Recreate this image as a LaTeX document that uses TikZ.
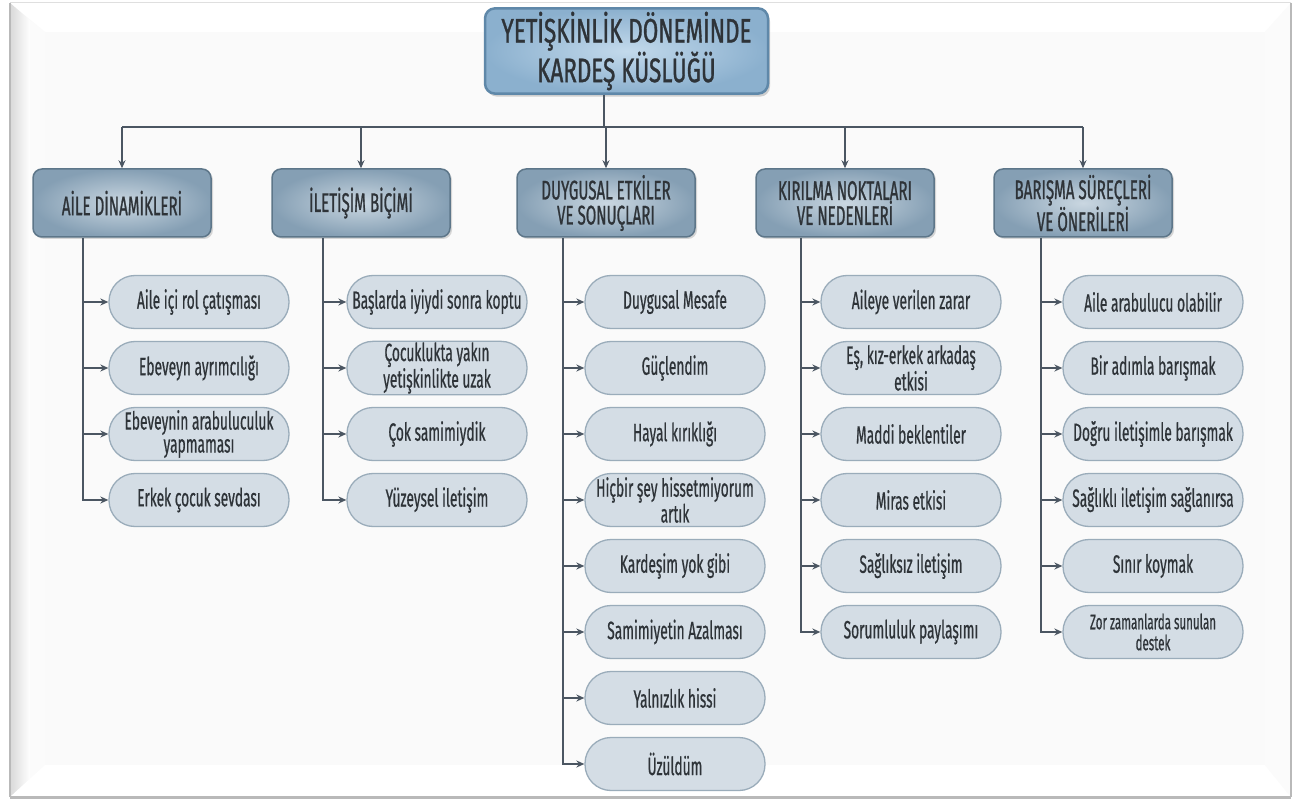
\documentclass[tikz,border=0pt]{standalone}
\usepackage{fontspec}
\setmainfont{Fira Sans}[FakeStretch=0.55]
\newfontfamily\pillfont{Fira Sans}[FakeStretch=0.55,FakeBold=0.6]
\newfontfamily\catfont{Fira Sans}[FakeStretch=0.56,FakeBold=0.8]
\newfontfamily\titfont{Fira Sans}[FakeStretch=0.66,FakeBold=1]
\usetikzlibrary{arrows.meta,shadows,calc}
\definecolor{txt}{HTML}{2E3338}
\definecolor{lnc}{HTML}{4B5662}
\definecolor{pillfill}{HTML}{D4DDE5}
\definecolor{pilldraw}{HTML}{9AACBA}
\definecolor{catin}{HTML}{CAD7E1}
\definecolor{catout}{HTML}{859FB4}
\definecolor{catdraw}{HTML}{5D7689}
\definecolor{titin}{HTML}{C3DAEC}
\definecolor{titout}{HTML}{8BB0CE}
\definecolor{titdraw}{HTML}{5F88A9}
\definecolor{face}{HTML}{FAFAFA}
\tikzset{
  titlebox/.style={rectangle, rounded corners=10pt, draw=titdraw, line width=2.5pt,
    inner color=titin, outer color=titout, minimum width=283pt, minimum height=82pt,
    align=center, text=txt, font=\titfont\fontsize{34}{29}\selectfont,
    drop shadow={opacity=0.35, shadow xshift=2pt, shadow yshift=-3pt}},
  catbox/.style={rectangle, rounded corners=9pt, draw=catdraw, line width=1.5pt,
    inner color=catin, outer color=catout, minimum width=178pt, minimum height=68pt,
    align=center, text=txt, font=\catfont\fontsize{27}{25}\selectfont,
    drop shadow={opacity=0.3, shadow xshift=2pt, shadow yshift=-2pt}},
  pill/.style={rectangle, rounded corners=26pt, draw=pilldraw, line width=1.3pt,
    fill=pillfill, minimum width=180pt, minimum height=53pt, inner sep=1pt,
    align=center, text=txt, font=\pillfont\fontsize{25}{23}\selectfont},
  conn/.style={draw=lnc, line width=2pt},
  arr/.style={conn, -{Stealth[length=8pt,width=7pt]}},
}
\begin{document}
\begin{tikzpicture}[x=1pt,y=-1pt]
\useasboundingbox (0,0) rectangle (1299,802);
% ---- frame ----
\fill[white] (0,0) rectangle (1299,802);
\fill[face] (10,3) rectangle (1291,797);
\fill[white] (10,3) -- (1291,3) -- (1265,32) -- (45,32) -- cycle;
\shade[left color=gray!30, right color=white] (10,3) -- (30,20) -- (30,780) -- (10,797) -- cycle;
\fill[white!97!gray] (30,20) -- (45,32) -- (45,765) -- (30,780) -- cycle;
\fill[white] (10,797) -- (45,765) -- (1265,765) -- (1291,797) -- cycle;
\fill[white!97!gray] (1291,3) -- (1265,32) -- (1265,765) -- (1291,797) -- cycle;
\fill[face] (45,32) rectangle (1265,765);
\draw[gray!25, line width=1pt] (10,3) -- (1291,3);
\draw[gray!55, line width=2pt] (10,3) -- (10,797);
\draw[gray!55, line width=3pt] (10,797) -- (1291,797);
\draw[gray!55, line width=2pt] (1291,3) -- (1291,797);

% ---- title ----
\node[titlebox] (title) at (626.5,51) {YETİŞKİNLİK DÖNEMİNDE\\KARDEŞ KÜSLÜĞÜ};

% ---- categories ----
\node[catbox] (cat1) at (122,203) {AİLE DİNAMİKLERİ};
\node[catbox] (cat2) at (361,203) {İLETİŞİM BİÇİMİ};
\node[catbox] (cat3) at (606,203) {DUYGUSAL ETKİLER\\VE SONUÇLARI};
\node[catbox] (cat4) at (845,203) {KIRILMA NOKTALARI\\VE NEDENLERİ};
\node[catbox] (cat5) at (1083,203) {BARIŞMA SÜREÇLERİ\\VE ÖNERİLERİ};

\coordinate (bar) at (604,127);
\draw[conn] (title.south -| bar) -- (bar);
\draw[conn] (bar -| cat1.north) -- (bar -| cat5.north);
\foreach \c in {cat1,cat2,cat3,cat4,cat5}{
  \draw[arr] (bar -| \c.north) -- (\c.north);
}

% ---- spine x positions ----
\coordinate (s1) at (83,0);
\coordinate (s2) at (323,0);
\coordinate (s3) at (563,0);
\coordinate (s4) at (801,0);
\coordinate (s5) at (1041,0);

% ---- column 1 ----
\node[pill] (a1) at (199,302) {Aile içi rol çatışması};
\node[pill] (a2) at (199,368) {Ebeveyn ayrımcılığı};
\node[pill] (a3) at (199,434) {Ebeveynin arabuluculuk\\yapmaması};
\node[pill] (a4) at (199,500) {Erkek çocuk sevdası};
% ---- column 2 ----
\node[pill] (b1) at (437,302) {Başlarda iyiydi sonra koptu};
\node[pill] (b2) at (437,368) {Çocuklukta yakın\\yetişkinlikte uzak};
\node[pill] (b3) at (437,434) {Çok samimiydik};
\node[pill] (b4) at (437,500) {Yüzeysel iletişim};
% ---- column 3 ----
\node[pill] (c1) at (675,302) {Duygusal Mesafe};
\node[pill] (c2) at (675,368) {Güçlendim};
\node[pill] (c3) at (675,434) {Hayal kırıklığı};
\node[pill] (c4) at (675,500) {Hiçbir şey hissetmiyorum\\artık};
\node[pill] (c5) at (675,566) {Kardeşim yok gibi};
\node[pill] (c6) at (675,632) {Samimiyetin Azalması};
\node[pill] (c7) at (675,698) {Yalnızlık hissi};
\node[pill] (c8) at (675,764) {Üzüldüm};
% ---- column 4 ----
\node[pill] (d1) at (911,302) {Aileye verilen zarar};
\node[pill] (d2) at (911,368) {Eş, kız-erkek arkadaş\\etkisi};
\node[pill] (d3) at (911,434) {Maddi beklentiler};
\node[pill] (d4) at (911,500) {Miras etkisi};
\node[pill] (d5) at (911,566) {Sağlıksız iletişim};
\node[pill] (d6) at (911,632) {Sorumluluk paylaşımı};
% ---- column 5 ----
\node[pill] (e1) at (1153,302) {Aile arabulucu olabilir};
\node[pill] (e2) at (1153,368) {Bir adımla barışmak};
\node[pill] (e3) at (1153,434) {Doğru iletişimle barışmak};
\node[pill] (e4) at (1153,500) {Sağlıklı iletişim sağlanırsa};
\node[pill] (e5) at (1153,566) {Sınır koymak};
\node[pill, font=\pillfont\fontsize{21}{21}\selectfont] (e6) at (1153,632) {Zor zamanlarda sunulan\\destek};

% ---- spines and arrows ----
\draw[arr] (cat1.south -| s1) |- (a4.west);
\foreach \n in {a1,a2,a3}{\draw[arr] (\n.west -| s1) -- (\n.west);}
\draw[arr] (cat2.south -| s2) |- (b4.west);
\foreach \n in {b1,b2,b3}{\draw[arr] (\n.west -| s2) -- (\n.west);}
\draw[arr] (cat3.south -| s3) |- (c8.west);
\foreach \n in {c1,c2,c3,c4,c5,c6,c7}{\draw[arr] (\n.west -| s3) -- (\n.west);}
\draw[arr] (cat4.south -| s4) |- (d6.west);
\foreach \n in {d1,d2,d3,d4,d5}{\draw[arr] (\n.west -| s4) -- (\n.west);}
\draw[arr] (cat5.south -| s5) |- (e6.west);
\foreach \n in {e1,e2,e3,e4,e5}{\draw[arr] (\n.west -| s5) -- (\n.west);}
\end{tikzpicture}
\end{document}
